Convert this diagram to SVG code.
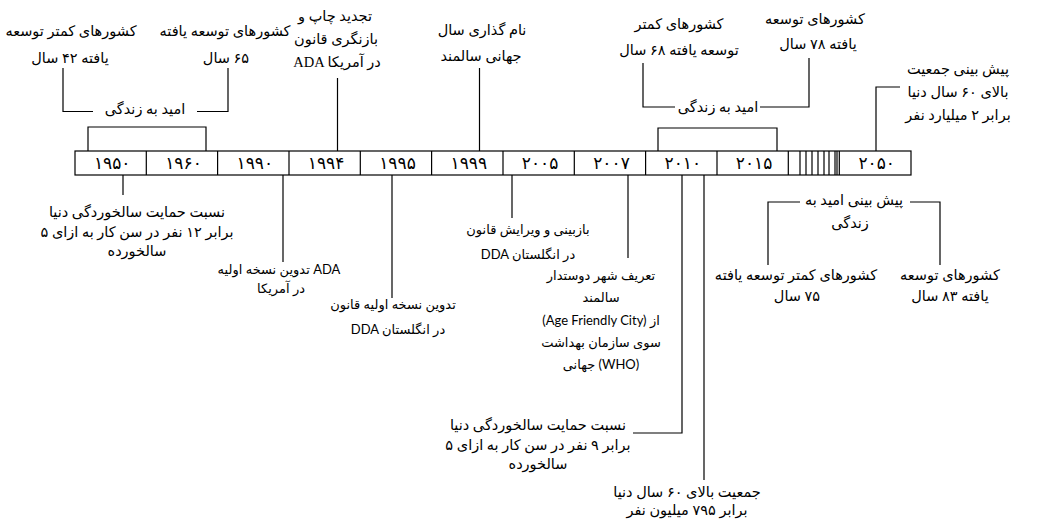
<svg xmlns="http://www.w3.org/2000/svg" width="1041" height="522" viewBox="0 0 1041 522">
<style>
text{fill:#000;text-anchor:middle;direction:ltr;unicode-bidi:embed}
text.r{direction:rtl}
.n{font-family:"Liberation Serif","DejaVu Sans",serif;font-size:14.5px}
.c{font-family:"Lato","DejaVu Sans",sans-serif;font-size:13px}
.y{font-family:"DejaVu Sans",sans-serif;font-size:17px;letter-spacing:3px}
.ln{fill:none;stroke:#000;stroke-width:1.2}
.cell{fill:#fff;stroke:#000;stroke-width:1.2}
</style>
<rect width="1041" height="522" fill="#fff"/>
<g id="timeline">
<rect class="cell" x="75" y="151" width="836" height="24"/>
<path class="ln" d="M146.3 151V175M217.6 151V175M289 151V175M360.3 151V175M431.6 151V175M503 151V175M574.3 151V175M645.6 151V175M717 151V175M788.3 151V175M839.3 151V175"/>
<path class="ln" stroke-width="1" d="M800 151V175M806 151V175M812 151V175M818 151V175M824 151V175M829 151V175M835 151V175M837 151V175"/>
<text class="y" x="112.2" y="169">۱۹۵۰</text>
<text class="y" x="183.5" y="169">۱۹۶۰</text>
<text class="y" x="254.8" y="169">۱۹۹۰</text>
<text class="y" x="326.1" y="169">۱۹۹۴</text>
<text class="y" x="397.5" y="169">۱۹۹۵</text>
<text class="y" x="468.8" y="169">۱۹۹۹</text>
<text class="y" x="540.1" y="169">۲۰۰۵</text>
<text class="y" x="611.5" y="169">۲۰۰۷</text>
<text class="y" x="682.8" y="169">۲۰۱۰</text>
<text class="y" x="754.1" y="169">۲۰۱۵</text>
<text class="y" x="876.7" y="169">۲۰۵۰</text>
</g>
<g id="connectors">
<path class="ln" d="M88 151V127H206V151"/>
<path class="ln" d="M93 111.5H63V68"/>
<path class="ln" d="M197 111.5H228V68"/>
<path class="ln" d="M337.5 78V151"/>
<path class="ln" d="M479.5 68V151"/>
<path class="ln" d="M658 151V128H777V151"/>
<path class="ln" d="M675 107H643V63"/>
<path class="ln" d="M760 107H809V58"/>
<path class="ln" d="M876 151V87H900"/>
<path class="ln" d="M123 175V195"/>
<path class="ln" d="M283 175V262"/>
<path class="ln" d="M392 175V298"/>
<path class="ln" d="M512 175V218"/>
<path class="ln" d="M628 175V258"/>
<path class="ln" d="M682 175V433H633"/>
<path class="ln" d="M704 175V480"/>
<path class="ln" d="M800 202H768V265"/>
<path class="ln" d="M910 202H940V265"/>
</g>
<g id="le-less-1950">
<text class="n" x="71" y="36">کشورهای کمتر توسعه</text>
<text class="n" x="70" y="63">یافته ۴۲ سال</text>
</g>
<g id="le-dev-1960">
<text class="n" x="225" y="36">کشورهای توسعه یافته</text>
<text class="n r" x="226" y="63">۶۵ سال</text>
</g>
<g id="le-1950">
<text class="n" x="145" y="114">امید به زندگی</text>
</g>
<g id="ev-1994">
<text class="n" x="335" y="21">تجدید چاپ و</text>
<text class="n" x="336" y="44">بازنگری  قانون</text>
<text class="n" x="337" y="67">ADA در آمریکا</text>
</g>
<g id="ev-1999">
<text class="n" x="482" y="35">نام گذاری سال</text>
<text class="n" x="481" y="61">جهانی سالمند</text>
</g>
<g id="le-less-2010">
<text class="n" x="679" y="29">کشورهای کمتر</text>
<text class="n" x="679" y="55">توسعه یافته ۶۸ سال</text>
</g>
<g id="le-dev-2015">
<text class="n" x="815" y="24">کشورهای توسعه</text>
<text class="n" x="818" y="49">یافته ۷۸ سال</text>
</g>
<g id="le-2010">
<text class="n" x="718" y="112">امید به زندگی</text>
</g>
<g id="ev-2050">
<text class="n" x="958" y="74">پیش بینی جمعیت</text>
<text class="n" x="958" y="97">بالای ۶۰ سال دنیا</text>
<text class="n" x="958" y="120">برابر ۲ میلیارد نفر</text>
</g>
<g id="ev-1950">
<text class="n" x="137" y="217">نسبت حمایت سالخوردگی دنیا</text>
<text class="n" x="137" y="237">برابر ۱۲ نفر در سن کار به ازای ۵</text>
<text class="n" x="137" y="256">سالخورده</text>
</g>
<g id="ev-1990">
<text class="c" x="279" y="274">تدوین نسخه اولیه ADA</text>
<text class="c" x="281" y="293">در آمریکا</text>
</g>
<g id="ev-1995">
<text class="c" x="393" y="309">تدوین نسخه اولیه قانون</text>
<text class="c" x="398" y="334">DDA در انگلستان</text>
</g>
<g id="ev-2005">
<text class="c" x="528" y="234">بازبینی و ویرایش قانون</text>
<text class="c" x="528" y="259">DDA در انگلستان</text>
</g>
<g id="ev-2007">
<text class="c" x="601" y="280">تعریف شهر دوستدار</text>
<text class="c" x="601" y="302">سالمند</text>
<text class="c" x="601" y="325">(Age Friendly City) از</text>
<text class="c" x="601" y="347">سوی سازمان بهداشت</text>
<text class="c" x="601" y="369">جهانی (WHO)</text>
</g>
<g id="ev-2010-support">
<text class="n" x="538" y="430">نسبت حمایت سالخوردگی دنیا</text>
<text class="n" x="538" y="450">برابر ۹ نفر در سن کار به ازای ۵</text>
<text class="n" x="538" y="469">سالخورده</text>
</g>
<g id="ev-2010-pop">
<text class="n" x="687" y="497">جمعیت بالای ۶۰ سال دنیا</text>
<text class="n" x="687" y="515">برابر ۷۹۵ میلیون نفر</text>
</g>
<g id="forecast">
<text class="n" x="854" y="205">پیش بینی امید به</text>
<text class="n" x="850" y="228">زندگی</text>
</g>
<g id="forecast-less">
<text class="n" x="796" y="280">کشورهای کمتر توسعه یافته</text>
<text class="n r" x="797" y="301">۷۵ سال</text>
</g>
<g id="forecast-dev">
<text class="n" x="950" y="280">کشورهای توسعه</text>
<text class="n" x="950" y="301">یافته ۸۳ سال</text>
</g>
</svg>
